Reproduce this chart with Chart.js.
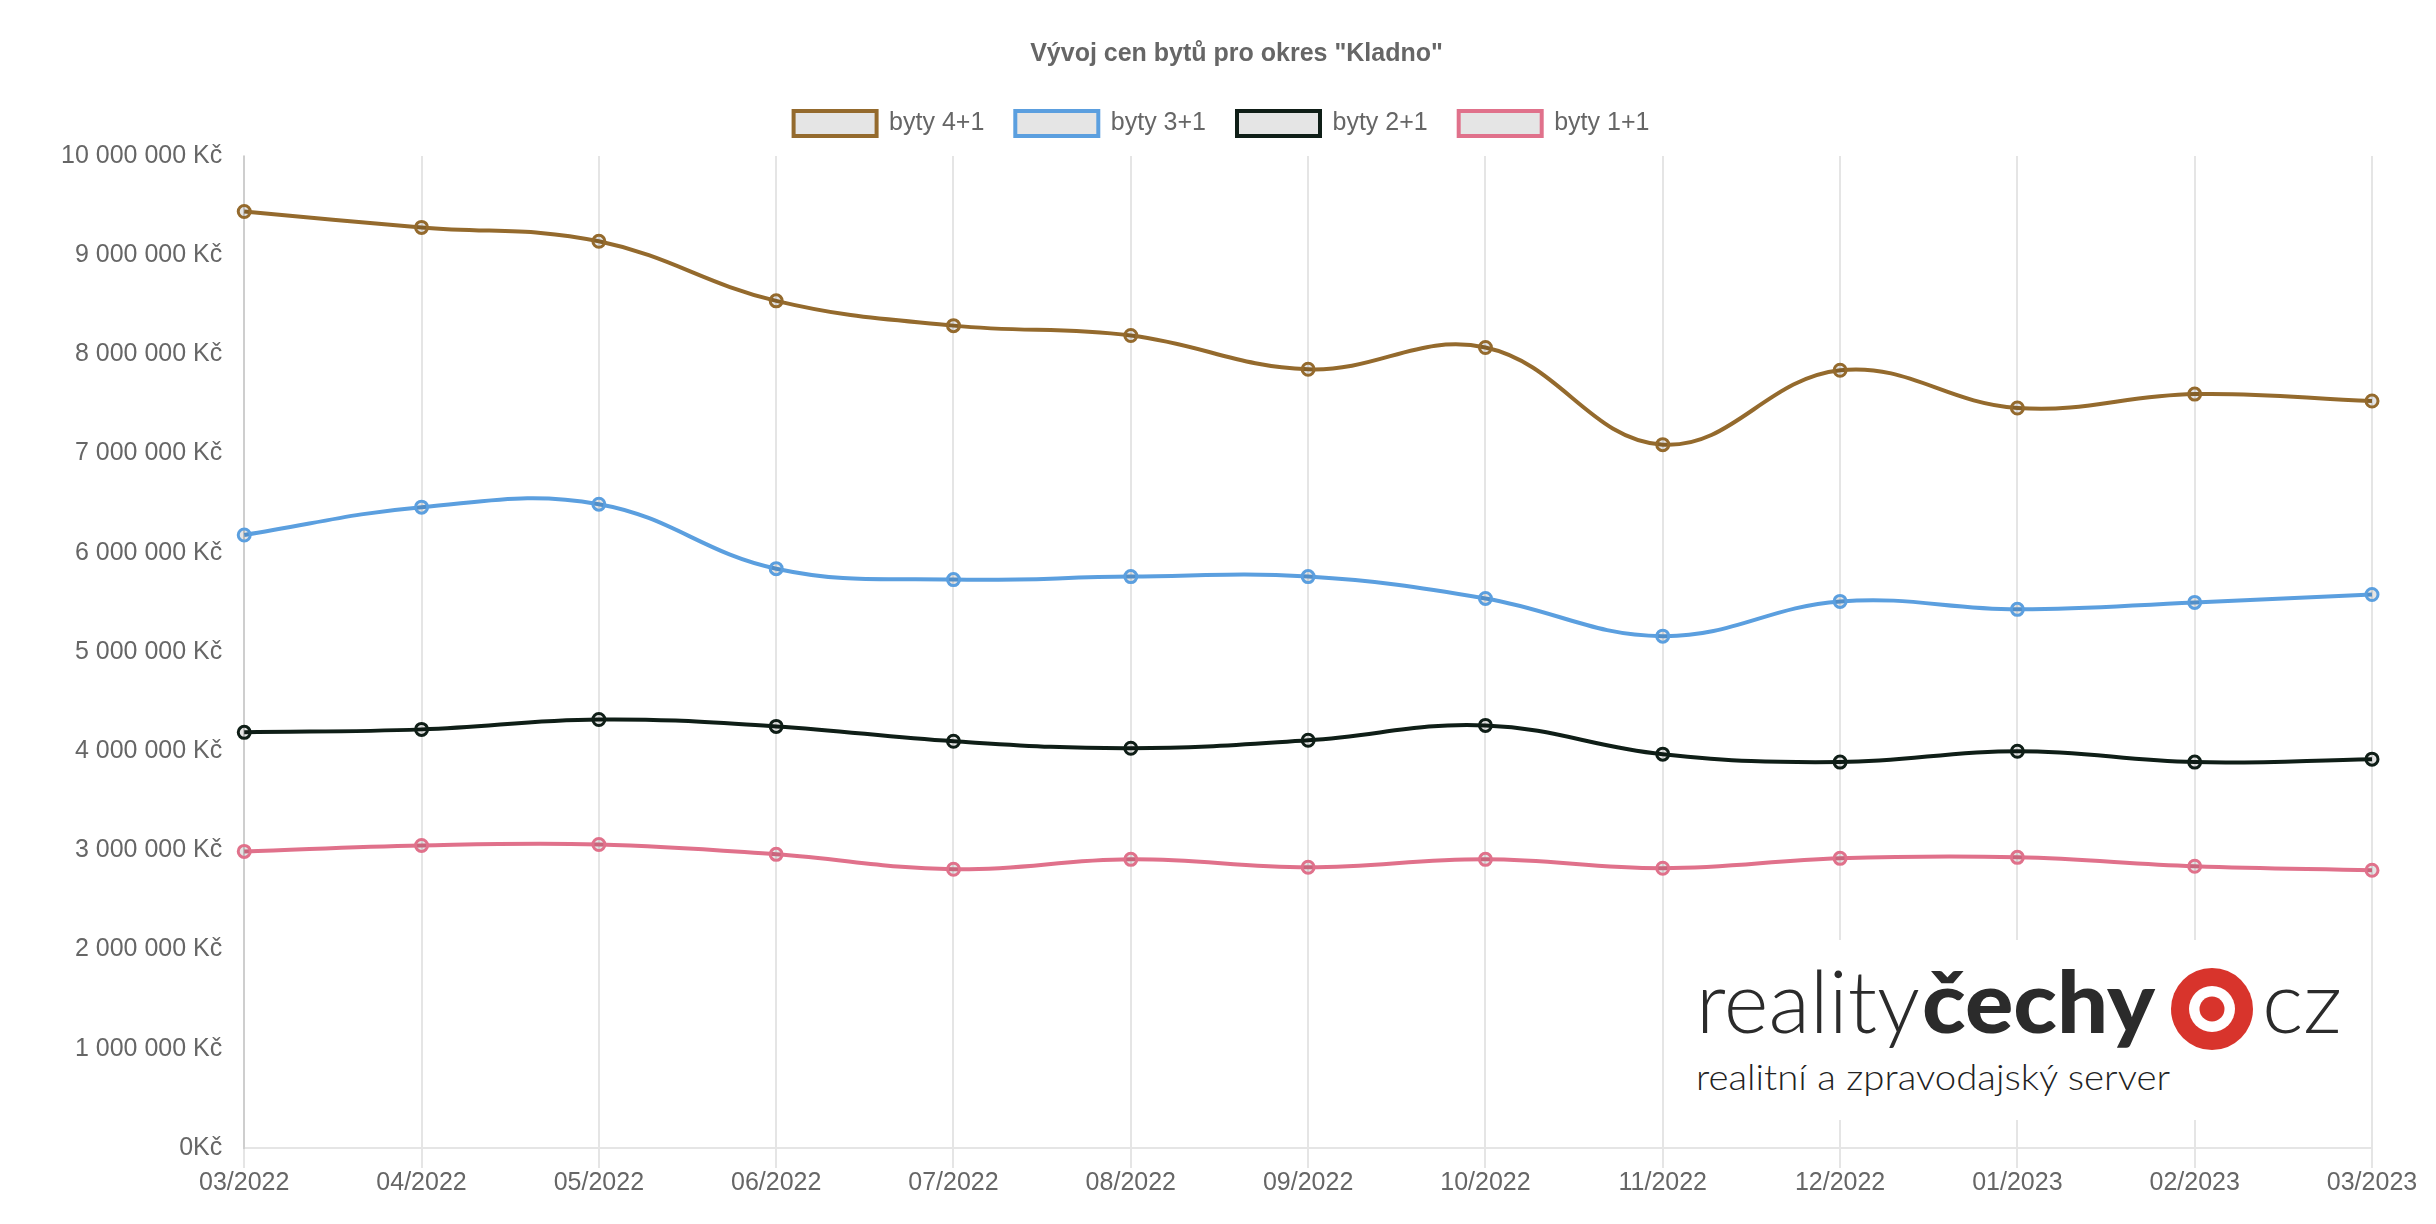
<!DOCTYPE html>
<html lang="cs">
<head>
  <meta charset="UTF-8" />
  <title>Vývoj cen bytů pro okres "Kladno"</title>
  <script src="https://cdn.jsdelivr.net/npm/chart.js"></script>
  <style>
    body {
      margin: 0;
      background-color: #fff;
    }
    #wrap {
      position: relative;
      width: 2436px;
      height: 1224px;
    }
    #logo {
      position: absolute;
      left: 0;
      top: 0;
      pointer-events: none;
    }
  </style>
</head>
<body>

<div id="wrap">
  <canvas id="priceChart"></canvas>
  <svg id="logo" width="2436" height="1224" xmlns="http://www.w3.org/2000/svg">
    <rect x="1672" y="940" width="692" height="180" fill="#fff" />
    <text x="1696" y="1033" font-family="Lato, 'Open Sans', sans-serif" font-weight="300" font-size="86" fill="#2b2b2b" textLength="224" lengthAdjust="spacingAndGlyphs">reality</text>
    <text x="1922" y="1033" font-family="Lato, 'Open Sans', sans-serif" font-weight="900" font-size="86" fill="#2b2b2b" textLength="233" lengthAdjust="spacingAndGlyphs">čechy</text>
    <circle cx="2212" cy="1009" r="41" fill="#d8342c" />
    <circle cx="2212" cy="1009" r="23" fill="#fff" />
    <circle cx="2212" cy="1009" r="12.5" fill="#d8342c" />
    <text x="2262" y="1033" font-family="Lato, 'Open Sans', sans-serif" font-weight="300" font-size="86" fill="#2b2b2b" textLength="80" lengthAdjust="spacingAndGlyphs">cz</text>
    <text x="1696" y="1090" font-family="Lato, 'Open Sans', sans-serif" font-weight="300" font-size="35" fill="#222" textLength="474" lengthAdjust="spacingAndGlyphs">realitní a zpravodajský server</text>
  </svg>
</div>

<script>
  const labels = ['03/2022', '04/2022', '05/2022', '06/2022', '07/2022', '08/2022', '09/2022',
                  '10/2022', '11/2022', '12/2022', '01/2023', '02/2023', '03/2023'];

  const byty41 = [9440000, 9280000, 9140000, 8540000, 8290000, 8190000, 7850000,
                  8070000, 7090000, 7840000, 7460000, 7600000, 7530000];
  const byty31 = [6180000, 6460000, 6490000, 5840000, 5730000, 5760000, 5760000,
                  5540000, 5160000, 5510000, 5430000, 5500000, 5580000];
  const byty21 = [4190000, 4220000, 4320000, 4250000, 4100000, 4030000, 4110000,
                  4260000, 3970000, 3890000, 4000000, 3890000, 3920000];
  const byty11 = [2990000, 3050000, 3060000, 2960000, 2810000, 2910000, 2830000,
                  2910000, 2820000, 2920000, 2930000, 2840000, 2800000];

  const yMin = 0;
  const yMax = 10000000;
  const yStep = 1000000;

  function formatKc(v) {
    if (v === 0) return '0Kč';
    return String(v).replace(/\B(?=(\d{3})+(?!\d))/g, ' ') + ' Kč';
  }

  function series(label, data, color) {
    return {
      label: label,
      data: data,
      borderColor: color,
      backgroundColor: 'rgba(0,0,0,0.1)',
      borderWidth: 4,
      fill: false,
      tension: 0.4,
      pointRadius: 6,
      pointBorderWidth: 3,
      pointBorderColor: color,
      pointBackgroundColor: 'rgba(0,0,0,0.1)'
    };
  }

  // legend sits a bit higher above the plot than chart.js leaves by default,
  // and title/legend are a little right of centre in the original
  const headerTweak = {
    id: 'headerTweak',
    afterInit(chart) {
      const fit = chart.legend.fit;
      chart.legend.fit = function () {
        fit.call(this);
        this.height += 10;
      };
    },
    afterLayout(chart) {
      chart.titleBlock.left += 31;
      chart.titleBlock.right += 31;
      chart.legend.left += 16;
      chart.legend.right += 16;
    }
  };

  Chart.defaults.font.family = "'Liberation Sans', Arial, sans-serif";
  Chart.defaults.font.size = 25;
  Chart.defaults.color = '#666';

  const ctx = document.getElementById('priceChart').getContext('2d');
  const chart = new Chart(ctx, {
    type: 'line',
    data: {
      labels: labels,
      datasets: [
        series('byty 4+1', byty41, '#946a2d'),
        series('byty 3+1', byty31, '#5b9fdf'),
        series('byty 2+1', byty21, '#0f1e17'),
        series('byty 1+1', byty11, '#e0718b')
      ]
    },
    options: {
      responsive: true,
      maintainAspectRatio: false,
      animation: false,
      layout: {
        padding: { left: 39, right: 64, top: 0, bottom: 26 }
      },
      plugins: {
        title: {
          display: true,
          text: 'Vývoj cen bytů pro okres "Kladno"',
          color: '#666',
          font: { size: 25, weight: 'bold' },
          padding: { top: 39, bottom: 11 }
        },
        legend: {
          labels: {
            boxWidth: 83,
            boxHeight: 25,
            padding: 31,
            color: '#666'
          }
        },
        tooltip: { enabled: false }
      },
      scales: {
        x: {
          grid: {
            color: 'rgba(0,0,0,0.1)',
            lineWidth: 2,
            tickLength: 20
          },
          border: { color: 'rgba(0,0,0,0.1)', width: 2 },
          ticks: { padding: 0, maxRotation: 0 }
        },
        y: {
          min: yMin,
          max: yMax,
          grid: { display: false, drawTicks: false },
          border: { display: true, color: 'rgba(0,0,0,0.1)', width: 2 },
          ticks: {
            stepSize: yStep,
            padding: 22,
            callback: v => formatKc(v)
          }
        }
      }
    },
    plugins: [headerTweak]
  });
</script>

</body>
</html>
